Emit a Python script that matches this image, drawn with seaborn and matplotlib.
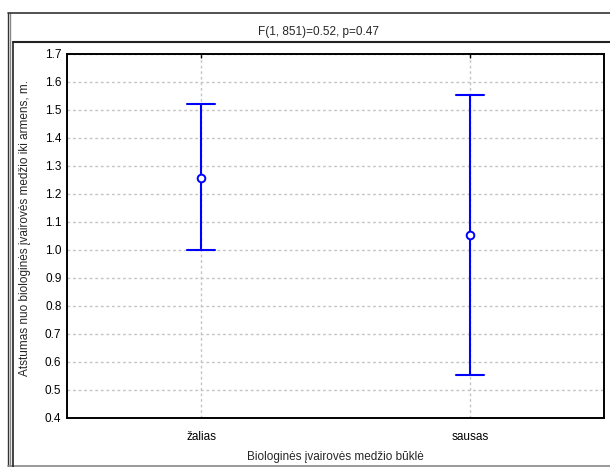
import numpy as np
import pandas as pd
import seaborn as sns
import matplotlib.pyplot as plt
from matplotlib.lines import Line2D

# ---- data ----
categories = ["žalias", "sausas"]
means = [1.258, 1.052]
lower = [0.999, 0.555]
upper = [1.520, 1.553]
yticks = [0.4, 0.5, 0.6, 0.7, 0.8, 0.9, 1.0, 1.1, 1.2, 1.3, 1.4, 1.5, 1.6, 1.7]
title = "F(1, 851)=0.52, p=0.47"
xlabel = "Biologinės įvairovės medžio būklė"
ylabel = "Atstumas nuo biologinės įvairovės medžio iki armens, m."

rows = []
for c, lo, m, hi in zip(categories, lower, means, upper):
    for v in (lo, m, hi):
        rows.append({"bukle": c, "value": v})
df = pd.DataFrame(rows)

sns.set_style("white")
plt.rcParams['font.family'] = ['Liberation Sans', 'DejaVu Sans']

W, H = 610, 467
fig = plt.figure(figsize=(W / 100, H / 100), dpi=100)


def px(x, y):
    return x / W, 1 - y / H


ax = fig.add_axes([67 / W, 1 - 418 / H, 537 / W, 364 / H])

sns.pointplot(data=df, x="bukle", y="value", order=categories,
              estimator=np.median,
              errorbar=lambda v: (np.min(v), np.max(v)),
              capsize=0.104, linestyle="none", color="#0000ff",
              markers="o", markersize=5.5, markeredgewidth=1.4,
              err_kws={"linewidth": 1.5}, ax=ax)

for ln in ax.lines:
    if ln.get_marker() not in (None, "None", "", " "):
        ln.set_markerfacecolor("white")
        ln.set_markeredgecolor("#0000ff")
        ln.set_zorder(5)

ax.set_xlim(-0.5, 1.5)
ax.set_ylim(0.4, 1.7)
ax.set_yticks(yticks)
ax.set_yticklabels([f"{t:.1f}" for t in yticks])
ax.set_xlabel("")
ax.set_ylabel("")
ax.grid(True, color="#c4c4c4", linestyle=(0, (2, 2)), linewidth=1)
ax.set_axisbelow(True)
for s in ax.spines.values():
    s.set_color("black")
    s.set_linewidth(1.4)
ax.tick_params(axis="both", direction="in", length=3, width=1, colors="black",
               labelsize=8.5)
ax.tick_params(axis="y", pad=4)
ax.tick_params(axis="x", pad=9)
ax.tick_params(top=True, right=False)

# texts
fig.text(*px(318, 32), title, ha="center", va="center", fontsize=8.5)
fig.text(*px(335, 457), xlabel, ha="center", va="center", fontsize=8.5)
fig.text(*px(25, 228), ylabel, ha="center", va="center", rotation=90, fontsize=8.5)

# frames
def hline(y, x0, x1, color, lw):
    a, b = px(x0, y), px(x1, y)
    fig.add_artist(Line2D([a[0], b[0]], [a[1], b[1]], color=color, lw=lw,
                          transform=fig.transFigure))

def vline(x, y0, y1, color, lw):
    a, b = px(x, y0), px(x, y1)
    fig.add_artist(Line2D([a[0], b[0]], [a[1], b[1]], color=color, lw=lw,
                          transform=fig.transFigure))

vline(7.5, 13, 466, "#333333", 1.0)
vline(9.5, 13, 466, "#888888", 1.0)
hline(13, 7.5, 612, "#333333", 1.2)
hline(466, 7.5, 612, "#888888", 1.2)
vline(13, 42, 470, "#222222", 1.2)
hline(42, 13, 612, "#222222", 1.5)

fig.savefig("out.png", dpi=100)
